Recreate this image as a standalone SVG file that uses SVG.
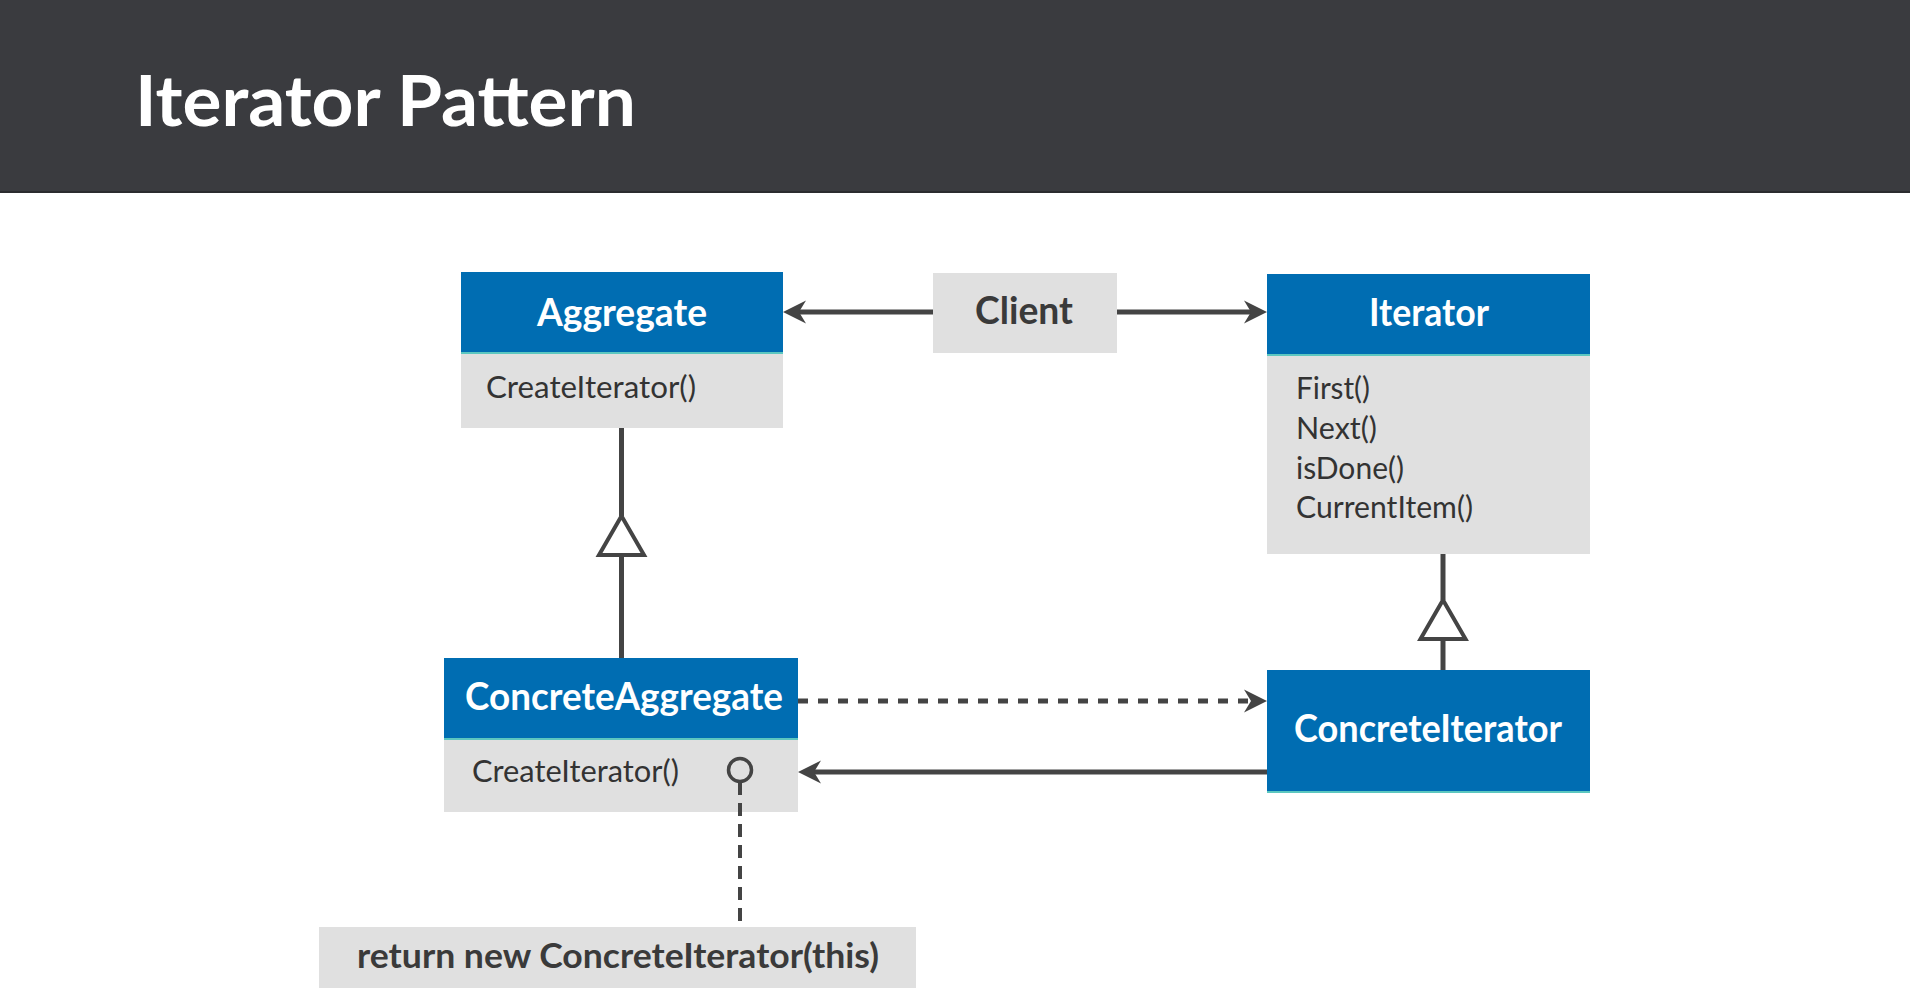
<svg xmlns="http://www.w3.org/2000/svg" width="1910" height="1004" viewBox="0 0 1910 1004">
  <style>
    .bar { fill: #3a3b3f; }
    .title { font-family: Lato, "Liberation Sans", sans-serif; font-weight: bold; font-size: 70px; fill: #ffffff; }
    .blue { fill: #006db2; }
    .grey { fill: #e0e0e0; }
    .teal { fill: #5cc7c0; }
    .hdr { font-family: Lato, "Liberation Sans", sans-serif; font-weight: bold; font-size: 38px; fill: #ffffff; text-anchor: middle; }
    .cli { font-family: Lato, "Liberation Sans", sans-serif; font-weight: bold; font-size: 38px; fill: #3a3a3a; text-anchor: middle; }
    .mth { font-family: Lato, "Liberation Sans", sans-serif; font-size: 31px; fill: #333333; }
    .note { font-family: Lato, "Liberation Sans", sans-serif; font-weight: bold; font-size: 34px; fill: #3a3a3a; }
    .ln { stroke: #444444; stroke-width: 5; fill: none; }
    .dash { stroke: #444444; stroke-width: 5; fill: none; stroke-dasharray: 10 10; }
    .ldash { stroke: #444444; stroke-width: 4; fill: none; stroke-dasharray: 13 8; }
    .tri { stroke: #444444; stroke-width: 4; fill: #ffffff; stroke-linejoin: miter; }
  </style>
  <defs>
    <marker id="arr" viewBox="0 -12 24 24" refX="9" refY="0" markerWidth="24" markerHeight="24" markerUnits="userSpaceOnUse" orient="auto">
      <path d="M23,0 L0,-11.5 L7,0 L0,11.5 Z" fill="#444444"/>
    </marker>
  </defs>

  <rect width="1910" height="1004" fill="#ffffff"/>

  <g id="header">
    <rect class="bar" x="0" y="0" width="1910" height="193"/>
    <rect x="0" y="191" width="1910" height="2" fill="#2b2c2f"/>
    <text class="title" x="135" y="126" textLength="501" lengthAdjust="spacingAndGlyphs">Iterator Pattern</text>
  </g>

  <g id="aggregate">
    <rect class="blue" x="461" y="272" width="322" height="81"/>
    <rect class="grey" x="461" y="353" width="322" height="75"/>
    <rect class="teal" x="461" y="352" width="322" height="2"/>
    <text class="hdr" x="622" y="326" textLength="170" lengthAdjust="spacingAndGlyphs">Aggregate</text>
    <text class="mth" x="486" y="398" textLength="210" lengthAdjust="spacingAndGlyphs">CreateIterator()</text>
  </g>

  <g id="client">
    <rect class="grey" x="933" y="273" width="184" height="80"/>
    <text class="cli" x="1024" y="324" textLength="98" lengthAdjust="spacingAndGlyphs">Client</text>
  </g>

  <g id="iterator">
    <rect class="blue" x="1267" y="274" width="323" height="81"/>
    <rect class="grey" x="1267" y="355" width="323" height="199"/>
    <rect class="teal" x="1267" y="354" width="323" height="2"/>
    <text class="hdr" x="1429" y="326" textLength="120" lengthAdjust="spacingAndGlyphs">Iterator</text>
    <text class="mth" x="1296" y="399" textLength="74" lengthAdjust="spacingAndGlyphs">First()</text>
    <text class="mth" x="1296" y="439" textLength="81" lengthAdjust="spacingAndGlyphs">Next()</text>
    <text class="mth" x="1296" y="479" textLength="108" lengthAdjust="spacingAndGlyphs">isDone()</text>
    <text class="mth" x="1296" y="518" textLength="177" lengthAdjust="spacingAndGlyphs">CurrentItem()</text>
  </g>

  <g id="concrete-aggregate">
    <rect class="blue" x="444" y="658" width="354" height="81"/>
    <rect class="grey" x="444" y="739" width="354" height="73"/>
    <rect class="teal" x="444" y="738" width="354" height="2"/>
    <text class="hdr" x="624" y="710" textLength="318" lengthAdjust="spacingAndGlyphs">ConcreteAggregate</text>
    <text class="mth" x="472" y="782" textLength="207" lengthAdjust="spacingAndGlyphs">CreateIterator()</text>
    <circle cx="740" cy="770" r="11.5" fill="none" stroke="#444444" stroke-width="3.5"/>
  </g>

  <g id="concrete-iterator">
    <rect class="blue" x="1267" y="670" width="323" height="123"/>
    <rect class="teal" x="1267" y="791" width="323" height="2"/>
    <text class="hdr" x="1428" y="742" textLength="268" lengthAdjust="spacingAndGlyphs">ConcreteIterator</text>
  </g>

  <g id="note">
    <rect class="grey" x="319" y="927" width="597" height="61"/>
    <text class="note" x="357" y="968" textLength="522" lengthAdjust="spacingAndGlyphs">return new ConcreteIterator(this)</text>
  </g>

  <g id="connectors">
    <line class="ln" x1="933" y1="312" x2="797" y2="312" marker-end="url(#arr)"/>
    <line class="ln" x1="1117" y1="312" x2="1253" y2="312" marker-end="url(#arr)"/>
    <line class="ln" x1="621.5" y1="428" x2="621.5" y2="516"/>
    <line class="ln" x1="621.5" y1="555" x2="621.5" y2="658"/>
    <polygon class="tri" points="621.5,516 599,555 644,555"/>
    <line class="ln" x1="1443" y1="554" x2="1443" y2="600"/>
    <line class="ln" x1="1443" y1="639" x2="1443" y2="670"/>
    <polygon class="tri" points="1443,600 1420.5,639 1465.5,639"/>
    <line class="dash" x1="798" y1="701" x2="1253" y2="701" marker-end="url(#arr)"/>
    <line class="ln" x1="1267" y1="772" x2="812" y2="772" marker-end="url(#arr)"/>
    <line class="ldash" x1="740" y1="782" x2="740" y2="927"/>
  </g>
</svg>
